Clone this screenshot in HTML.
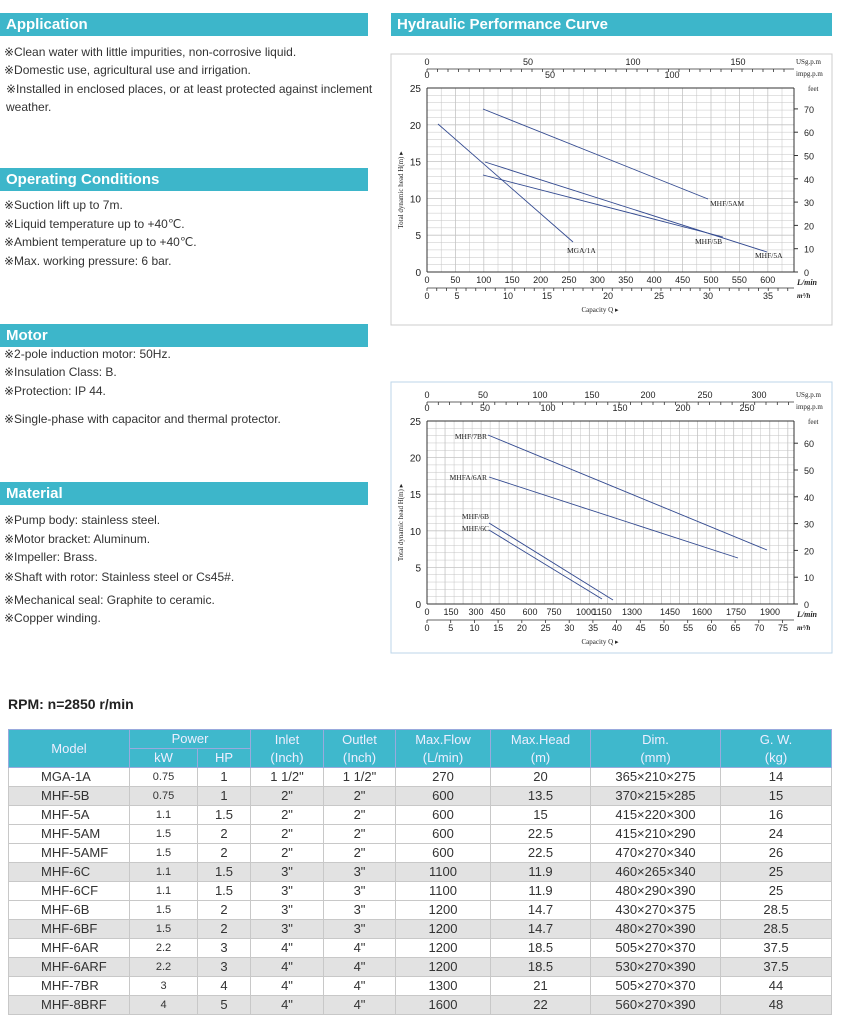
<!DOCTYPE html>
<html><head><meta charset="utf-8"><style>
body{margin:0;width:845px;height:1022px;background:#fff;font-family:"Liberation Sans",sans-serif;position:relative;overflow:hidden}
.bar{position:absolute;background:#3db6ca;color:#fff;font-weight:bold;font-size:15px;line-height:23px;padding-left:6px;box-sizing:border-box}
.t{position:absolute;font-size:12px;color:#333;white-space:nowrap}
table{position:absolute;left:8px;top:729px;border-collapse:collapse;font-size:13px;color:#333;table-layout:fixed}
td{border:1px solid #c8c8c8;text-align:center;padding:0;height:18px;line-height:18px}
tr.h td{background:#3fb8cc;color:#eef;border-color:#9ad;height:18px}
tr.g td{background:#e2e2e2}
td.m{text-align:left;padding-left:32px}
.k{font-size:11px}
</style></head><body>
<div class="bar" style="left:0;top:13px;width:368px">Application</div>
<div class="bar" style="left:391px;top:13px;width:441px">Hydraulic Performance Curve</div>
<div class="bar" style="left:0;top:168px;width:368px">Operating Conditions</div>
<div class="bar" style="left:0;top:324px;width:368px">Motor</div>
<div class="bar" style="left:0;top:482px;width:368px">Material</div>

<div class="t" style="left:4px;top:45px">※Clean water with little impurities, non-corrosive liquid.</div>
<div class="t" style="left:4px;top:63px">※Domestic use, agricultural use and irrigation.</div>
<div class="t" style="left:6px;top:82px">※Installed in enclosed places, or at least protected against inclement</div>
<div class="t" style="left:6px;top:100px">weather.</div>
<div class="t" style="left:4px;top:198px">※Suction lift up to 7m.</div>
<div class="t" style="left:4px;top:217px">※Liquid temperature up to +40℃.</div>
<div class="t" style="left:4px;top:235px">※Ambient temperature up to +40℃.</div>
<div class="t" style="left:4px;top:254px">※Max. working pressure: 6 bar.</div>
<div class="t" style="left:4px;top:347px">※2-pole induction motor: 50Hz.</div>
<div class="t" style="left:4px;top:365px">※Insulation Class:  B.</div>
<div class="t" style="left:4px;top:384px">※Protection: IP 44.</div>
<div class="t" style="left:4px;top:412px">※Single-phase with capacitor and thermal protector.</div>
<div class="t" style="left:4px;top:513px">※Pump body: stainless steel.</div>
<div class="t" style="left:4px;top:532px">※Motor bracket: Aluminum.</div>
<div class="t" style="left:4px;top:550px">※Impeller: Brass.</div>
<div class="t" style="left:4px;top:570px">※Shaft with rotor: Stainless steel or Cs45#.</div>
<div class="t" style="left:4px;top:593px">※Mechanical seal: Graphite to ceramic.</div>
<div class="t" style="left:4px;top:611px">※Copper winding.</div>

<div style="position:absolute;left:8px;top:696px;font-weight:bold;font-size:14px;color:#222">RPM: n=2850 r/min</div>

<svg id="c" width="845" height="700" style="position:absolute;left:0;top:0" font-family="Liberation Serif,serif" fill="#222"></svg>

<table>
<colgroup><col style="width:121px"><col style="width:68px"><col style="width:53px"><col style="width:73px"><col style="width:72px"><col style="width:95px"><col style="width:100px"><col style="width:130px"><col style="width:111px"></colgroup>
<tr class="h"><td rowspan="2">Model</td><td colspan="2">Power</td><td rowspan="2">Inlet<br>(Inch)</td><td rowspan="2">Outlet<br>(Inch)</td><td rowspan="2">Max.Flow<br>(L/min)</td><td rowspan="2">Max.Head<br>(m)</td><td rowspan="2">Dim.<br>(mm)</td><td rowspan="2">G. W.<br>(kg)</td></tr>
<tr class="h"><td>kW</td><td>HP</td></tr>
<tr><td class="m">MGA-1A</td><td class="k">0.75</td><td>1</td><td>1 1/2"</td><td>1 1/2"</td><td>270</td><td>20</td><td>365×210×275</td><td>14</td></tr>
<tr class="g"><td class="m">MHF-5B</td><td class="k">0.75</td><td>1</td><td>2"</td><td>2"</td><td>600</td><td>13.5</td><td>370×215×285</td><td>15</td></tr>
<tr><td class="m">MHF-5A</td><td class="k">1.1</td><td>1.5</td><td>2"</td><td>2"</td><td>600</td><td>15</td><td>415×220×300</td><td>16</td></tr>
<tr><td class="m">MHF-5AM</td><td class="k">1.5</td><td>2</td><td>2"</td><td>2"</td><td>600</td><td>22.5</td><td>415×210×290</td><td>24</td></tr>
<tr><td class="m">MHF-5AMF</td><td class="k">1.5</td><td>2</td><td>2"</td><td>2"</td><td>600</td><td>22.5</td><td>470×270×340</td><td>26</td></tr>
<tr class="g"><td class="m">MHF-6C</td><td class="k">1.1</td><td>1.5</td><td>3"</td><td>3"</td><td>1100</td><td>11.9</td><td>460×265×340</td><td>25</td></tr>
<tr><td class="m">MHF-6CF</td><td class="k">1.1</td><td>1.5</td><td>3"</td><td>3"</td><td>1100</td><td>11.9</td><td>480×290×390</td><td>25</td></tr>
<tr><td class="m">MHF-6B</td><td class="k">1.5</td><td>2</td><td>3"</td><td>3"</td><td>1200</td><td>14.7</td><td>430×270×375</td><td>28.5</td></tr>
<tr class="g"><td class="m">MHF-6BF</td><td class="k">1.5</td><td>2</td><td>3"</td><td>3"</td><td>1200</td><td>14.7</td><td>480×270×390</td><td>28.5</td></tr>
<tr><td class="m">MHF-6AR</td><td class="k">2.2</td><td>3</td><td>4"</td><td>4"</td><td>1200</td><td>18.5</td><td>505×270×370</td><td>37.5</td></tr>
<tr class="g"><td class="m">MHF-6ARF</td><td class="k">2.2</td><td>3</td><td>4"</td><td>4"</td><td>1200</td><td>18.5</td><td>530×270×390</td><td>37.5</td></tr>
<tr><td class="m">MHF-7BR</td><td class="k">3</td><td>4</td><td>4"</td><td>4"</td><td>1300</td><td>21</td><td>505×270×370</td><td>44</td></tr>
<tr class="g"><td class="m">MHF-8BRF</td><td class="k">4</td><td>5</td><td>4"</td><td>4"</td><td>1600</td><td>22</td><td>560×270×390</td><td>48</td></tr>
</table>

<script>
var s='';
function L(x1,y1,x2,y2,c,w){s+='<line x1="'+x1+'" y1="'+y1+'" x2="'+x2+'" y2="'+y2+'" stroke="'+(c||'#bbb')+'" stroke-width="'+(w||0.6)+'"/>';}
function T(x,y,t,sz,a,f){s+='<text x="'+x+'" y="'+y+'" font-size="'+(sz||9)+'" text-anchor="'+(a||'middle')+'"'+(f?' font-family="Liberation Sans,sans-serif"':'')+'>'+t+'</text>';}
function chart(o){
 var X0=427,X1=794,Y0=o.top,Y1=o.bot;
 s+='<rect x="391" y="'+o.bt+'" width="441" height="'+(o.bb-o.bt)+'" fill="#fff" stroke="'+o.bc+'"/>';
 for(var v=0;v*o.gx<=X1-X0;v++){var x=X0+v*o.gx;L(x,Y0,x,Y1,'#c4c4c4',v%2?0.5:0.8);}
 var ppm=(Y1-Y0)/25;
 for(var m=0;m<=25;m++){L(X0,Y1-m*ppm,X1,Y1-m*ppm,'#c4c4c4',m%5?0.5:0.8);}
 L(X0,Y0,X0,Y1,'#333',1);L(X1,Y0,X1,Y1,'#333',1);L(X0,Y1,X1,Y1,'#333',1);L(X0,Y0,X1,Y0,'#333',1);
 for(var m=0;m<=25;m+=5){T(X0-6,Y1-m*ppm+4,m,10,'end',1);}
 for(var f=0;f<=o.fmax;f+=10){var y=Y1-f*o.fpx;L(X1,y,X1+4,y,'#333',1);T(X1+10,y+4,f,9,'start',1);}
 T(X1+14,Y0+3,'feet',7,'start');
 L(X0,o.top-19,X1,o.top-19,'#333',0.8);
 o.us.forEach(function(a){T(a[0],o.top-23,a[1],9,'middle',1);});
 for(var x=X0;x<=X1;x+=o.ust)L(x,o.top-19,x,o.top-16,'#333',0.8);
 o.imp.forEach(function(a){T(a[0],o.top-10,a[1],9,'middle',1);});
 T(X1+2,o.top-24,'USg.p.m',7,'start');T(X1+2,o.top-12,'impg.p.m',7,'start');
 o.lm.forEach(function(a){T(a[0],Y1+11,a[1],9,'middle',1);});
 L(X0,Y1+16,X1,Y1+16,'#333',0.8);
 for(var x=X0;x<=X1;x+=o.mst)L(x,Y1+16,x,Y1+19,'#333',0.8);
 o.m3.forEach(function(a){T(a[0],Y1+27,a[1],9,'middle',1);});
 s+='<text x="'+(X1+3)+'" y="'+(Y1+13)+'" font-size="8" font-style="italic" font-weight="bold">L/min</text>';
 s+='<text x="'+(X1+3)+'" y="'+(Y1+26)+'" font-size="7" font-style="italic" font-weight="bold">m³/h</text>';
 T(600,Y1+40,'Capacity  Q  ▸',7);
 s+='<text transform="translate(403,'+(Y0+(Y1-Y0)/2+10)+') rotate(-90)" font-size="7" text-anchor="middle">Total dynamic head H(m) ▸</text>';
 o.cv.forEach(function(c){L(c[0],c[1],c[2],c[3],'#334a90',0.9);});
 o.lb.forEach(function(a){T(a[0],a[1],a[2],7.5,a[3]||'start');});
}
function P(xs,vs){return vs.map(function(v,i){return [xs[i],v];});}
var lm1=[];for(var v=0;v<=600;v+=50)lm1.push([427+v*0.568,v]);
chart({top:88,bot:272,bt:54,bb:325,bc:'#ccc',gx:14.2,fpx:2.33,fmax:70,
 us:P([427,528,633,738],[0,50,100,150]),imp:P([427,550,672],[0,50,100]),lm:lm1,
 m3:P([427,457,508,547,608,659,708,768],[0,5,10,15,20,25,30,35]),ust:10.5,mst:9.75,
 cv:[[438,124,573,242],[483,109,708,199],[485,162,767,252],[483,175,723,237]],
 lb:[[567,253,'MGA/1A'],[710,206,'MHF/5AM'],[695,244,'MHF/5B'],[755,258,'MHF/5A']]});
var m32=[];for(var v=0;v<=75;v+=5)m32.push([427+v*4.747,v]);
chart({top:421,bot:604,bt:382,bb:653,bc:'#bcd6ea',gx:9.02,fpx:2.68,fmax:60,
 us:P([427,483,540,592,648,705,759],[0,50,100,150,200,250,300]),
 imp:P([427,485,548,620,683,747],[0,50,100,150,200,250]),
 lm:P([427,451,476,498,530,554,586,602,632,670,702,736,770],[0,150,300,450,600,750,1000,1150,1300,1450,1600,1750,1900]),
 m3:m32,ust:11.3,mst:23.7,
 cv:[[488,435,767,550],[489,477,738,558],[489,523,613,600],[489,530,602,599]],
 lb:[[487,439,'MHF/7BR','end'],[487,480,'MHFA/6AR','end'],[489,519,'MHF/6B','end'],[489,531,'MHF/6C','end']]});
document.getElementById('c').innerHTML=s;
</script>
</body></html>
